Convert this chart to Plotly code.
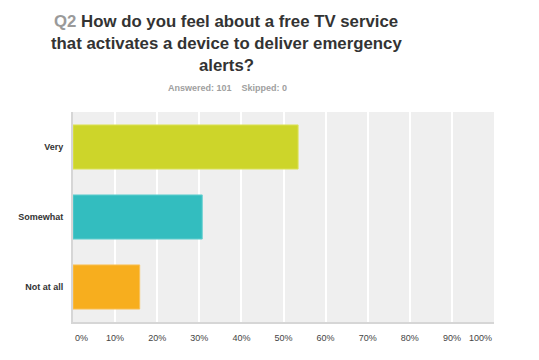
import plotly.graph_objects as go

categories = ["Very", "Somewhat", "Not at all"]
responses = [54, 31, 16]
answered = 101
skipped = 0
percent = [r / answered * 100 for r in responses]
bar_colors = ["#CDD52A", "#33BDBF", "#F7AE1E"]
edge_colors = ["#DDE35E", "#66CFD0", "#F9C25A"]
tick_values = [0, 10, 20, 30, 40, 50, 60, 70, 80, 90, 100]
tick_labels = [f"{v}%" for v in tick_values]

fig = go.Figure(
    go.Bar(
        y=categories,
        x=percent,
        orientation="h",
        marker=dict(color=bar_colors, line=dict(color=edge_colors, width=1)),
        width=0.63,
        hoverinfo="skip",
    )
)

font = "Liberation Sans, Arial, sans-serif"
L, R, T, B = 73, 45, 112, 38
H = 360 - T - B

def py(p):
    return (360 - B - p) / H

title_lines = [
    "<span style='color:#9a9a9a'>Q2</span> How do you feel about a free TV service",
    "that activates a device to deliver emergency",
    "alerts?",
]
annotations = []
for i, line in enumerate(title_lines):
    annotations.append(dict(
        text=f"<b>{line}</b>", xref="paper", yref="paper",
        x=(226 - L) / 421, y=py(21 + i * 22.5), xanchor="center", yanchor="middle",
        showarrow=False, font=dict(family=font, size=16.8, color="#333333"),
    ))
annotations.append(dict(
    text=f"<b>Answered: {answered}&nbsp;&nbsp;&nbsp;&nbsp;Skipped: {skipped}</b>",
    xref="paper", yref="paper", x=(227 - L) / 421, y=py(88),
    xanchor="center", yanchor="middle", showarrow=False,
    font=dict(family=font, size=9, color="#a0a0a0"),
))
# end tick labels aligned to plot edges
annotations.append(dict(text=tick_labels[0], xref="x", yref="paper", x=tick_values[0], y=py(338),
                        xanchor="left", yanchor="middle", showarrow=False,
                        font=dict(family=font, size=9, color="#444444")))
annotations.append(dict(text=tick_labels[-1], xref="x", yref="paper", x=tick_values[-1], y=py(338),
                        xanchor="right", yanchor="middle", showarrow=False,
                        font=dict(family=font, size=9, color="#444444")))

fig.update_layout(
    width=539, height=360,
    margin=dict(l=L, r=R, t=T, b=B, pad=0, autoexpand=False),
    paper_bgcolor="white", plot_bgcolor="#EFEFEF",
    showlegend=False,
    annotations=annotations,
    xaxis=dict(
        range=[0, 100], tickvals=tick_values,
        ticktext=[""] + tick_labels[1:-1] + [""],
        showgrid=True, gridcolor="white", gridwidth=1.5,
        zeroline=False, showline=True, linecolor="#D6D6D6", linewidth=2,
        ticks="", ticklabelstandoff=6, automargin=False,
        tickfont=dict(family=font, size=9, color="#444444"), fixedrange=True,
    ),
    yaxis=dict(
        autorange="reversed", showgrid=False, zeroline=False,
        showline=True, linecolor="#D6D6D6", linewidth=2, ticks="",
        ticklabelstandoff=6, automargin=False,
        tickfont=dict(family=font, size=9, color="#333333", weight="bold"), fixedrange=True,
    ),
)

fig.write_html("out.html", config=dict(displayModeBar=False),
               post_script="document.body.style.margin='0';")
